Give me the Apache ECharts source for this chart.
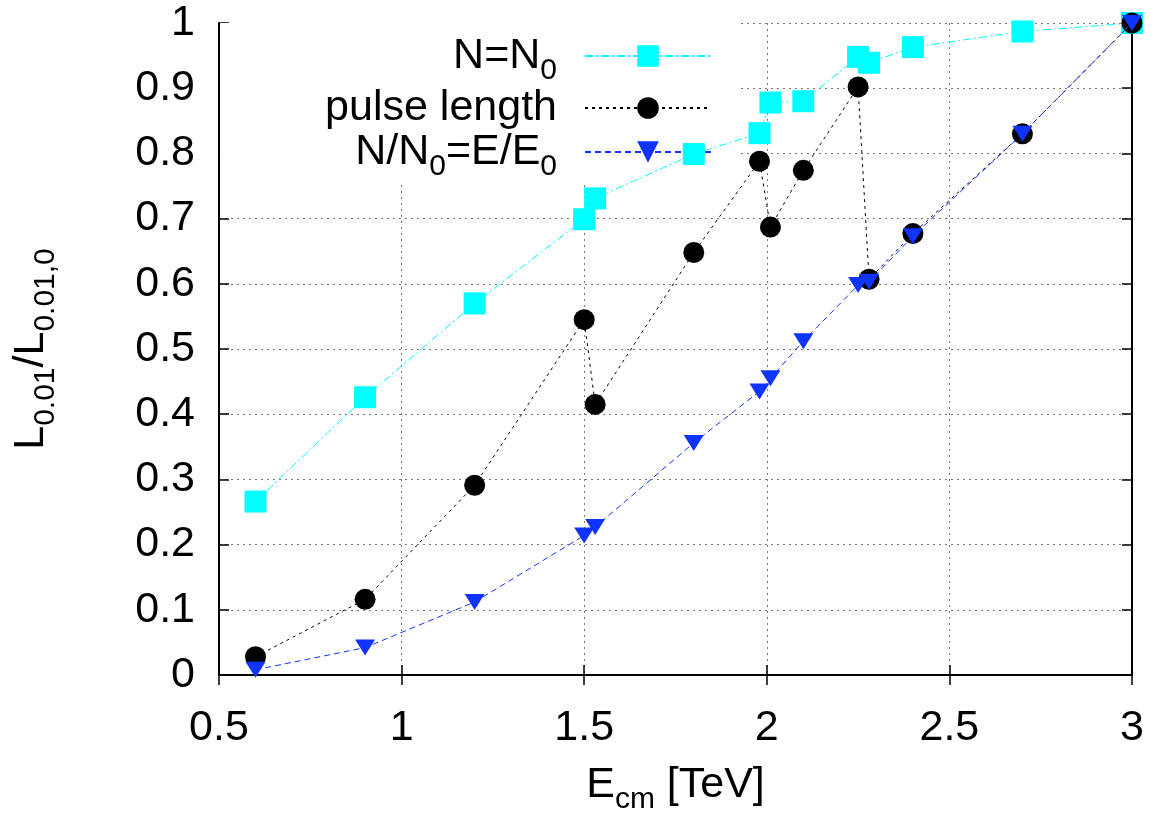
<!DOCTYPE html>
<html>
<head>
<meta charset="utf-8">
<script src="https://cdn.jsdelivr.net/npm/echarts@6/dist/echarts.min.js"></script>
<style>html,body{margin:0;padding:0;background:#fff}#c{width:1168px;height:820px}</style>
</head>
<body>
<div id="c"></div>
<script>
const xValues = [0.6, 0.9, 1.2, 1.5, 1.53, 1.8, 1.98, 2.01, 2.1, 2.25, 2.28, 2.4, 2.7, 3.0];
const nEqualN0 = [0.266, 0.426, 0.570, 0.699, 0.731, 0.799, 0.831, 0.878, 0.880, 0.948, 0.939, 0.963, 0.987, 1.0];
const pulseLength = [0.028, 0.116, 0.291, 0.545, 0.415, 0.648, 0.788, 0.687, 0.774, 0.902, 0.607, 0.677, 0.830, 1.0];
const nScaledE = [0.008, 0.042, 0.112, 0.214, 0.227, 0.356, 0.435, 0.455, 0.512, 0.598, 0.603, 0.673, 0.830, 1.0];
const seriesNames = ['N=N0', 'pulse length', 'N/N0=E/E0'];
const legendLabels = {
  'N=N0': 'N=N{sub|0}',
  'pulse length': 'pulse length',
  'N/N0=E/E0': 'N/N{sub|0}=E/E{sub|0}'
};
const xAxisTitle = 'E{sub|cm} [TeV]';
const yAxisTitle = 'L{sub|0.01}/L{sub|0.01,0}';

const FONT = 'Liberation Sans';
const pairs = arr => xValues.map((x, i) => [x, arr[i]]);
const subStyle = {fontSize: 30, lineHeight: 30, verticalAlign: 'top', padding: [22, 0, 0, 0], fontFamily: FONT, color: '#000'};

const chart = echarts.init(document.getElementById('c'), null, {renderer: 'canvas'});
const gridLine = {show: true, lineStyle: {color: '#777', width: 1, type: [2, 4]}};
const axisLineStyle = {show: true, lineStyle: {color: '#000', width: 2}};
const tickStyle = {show: true, inside: true, length: 10, lineStyle: {color: '#000', width: 1.5}};
const labelStyle = {fontSize: 43, fontFamily: FONT, color: '#000'};

chart.setOption({
  animation: false,
  backgroundColor: '#fff',
  grid: {left: 219, right: 36, top: 23, bottom: 133, containLabel: false},
  legend: {
    data: seriesNames,
    orient: 'vertical',
    align: 'right',
    right: 431,
    top: 23,
    padding: [11, 25, 0, 105],
    itemGap: 0,
    itemWidth: 126,
    itemHeight: 27,
    backgroundColor: '#fff',
    z: 1,
    formatter: name => legendLabels[name],
    textStyle: {fontSize: 43, fontFamily: FONT, color: '#000', lineHeight: 44, padding: [0, 23, 0, 0], rich: {sub: subStyle}}
  },
  xAxis: [{
    type: 'value', min: 0.5, max: 3, interval: 0.5, position: 'bottom',
    axisLine: axisLineStyle, axisTick: tickStyle, splitLine: gridLine,
    axisLabel: Object.assign({margin: 32}, labelStyle),
    name: xAxisTitle, nameLocation: 'middle', nameGap: 88,
    nameTextStyle: {fontSize: 43, fontFamily: FONT, color: '#000', lineHeight: 44, rich: {sub: subStyle}}
  }, {
    type: 'value', min: 0.5, max: 3, interval: 0.5, position: 'top',
    axisLine: axisLineStyle, axisTick: tickStyle, splitLine: {show: false}, axisLabel: {show: false}
  }],
  yAxis: [{
    type: 'value', min: 0, max: 1, interval: 0.1, position: 'left',
    axisLine: axisLineStyle, axisTick: tickStyle, splitLine: gridLine,
    axisLabel: Object.assign({margin: 24}, labelStyle),
    name: yAxisTitle, nameLocation: 'middle', nameRotate: 90, nameGap: 166,
    nameTextStyle: {fontSize: 43, fontFamily: FONT, color: '#000', lineHeight: 44, rich: {sub: subStyle}}
  }, {
    type: 'value', min: 0, max: 1, interval: 0.1, position: 'right',
    axisLine: axisLineStyle, axisTick: tickStyle, splitLine: {show: false}, axisLabel: {show: false}
  }],
  series: [{
    name: seriesNames[0], type: 'line', data: pairs(nEqualN0), clip: false, z: 2,
    symbol: 'rect', symbolSize: 22,
    itemStyle: {color: '#00ffff'},
    lineStyle: {color: '#00ffff', width: 1, type: [8, 3, 2, 3]}
  }, {
    name: seriesNames[1], type: 'line', data: pairs(pulseLength), clip: false, z: 3,
    symbol: 'circle', symbolSize: 21,
    itemStyle: {color: '#000'},
    lineStyle: {color: '#000', width: 1, type: [3, 4]}
  }, {
    name: seriesNames[2], type: 'line', data: pairs(nScaledE), clip: false, z: 4,
    symbol: 'path://M0,0 L20,0 L10,16 Z', symbolSize: [20, 16],
    itemStyle: {color: '#1034ff'},
    lineStyle: {color: '#1034ff', width: 1, type: [6, 4]}
  }]
});
</script>
</body>
</html>
